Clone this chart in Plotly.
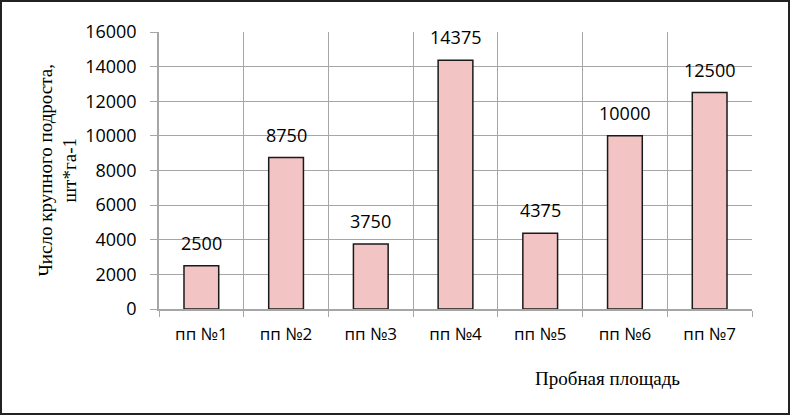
import plotly.graph_objects as go

categories = ["пп №1", "пп №2", "пп №3", "пп №4", "пп №5", "пп №6", "пп №7"]
values = [2500, 8750, 3750, 14375, 4375, 10000, 12500]
y_ticks = [0, 2000, 4000, 6000, 8000, 10000, 12000, 14000, 16000]

W, H = 791, 416
L, R, T, B = 159, 39, 32, 107
pw, ph = W - L - R, H - T - B

fig = go.Figure(go.Bar(
    x=categories, y=values,
    marker=dict(color="#F3C4C4", line=dict(color="#1a1a1a", width=1.5)),
    cliponaxis=False,
))

label_annotations = [
    dict(x=c, y=v, xref="x", yref="y", text=str(v), showarrow=False,
         xanchor="center", yanchor="bottom", yshift=9,
         font=dict(family="Open Sans", size=18, color="black"))
    for c, v in zip(categories, values)
]

fig.update_layout(
    width=W, height=H,
    margin=dict(l=L, r=R, t=T, b=B),
    paper_bgcolor="white", plot_bgcolor="white",
    bargap=0.59, showlegend=False,
    xaxis=dict(
        type="category", tickson="boundaries", showgrid=True, gridcolor="#A6A6A6", gridwidth=1,
        showline=True, linecolor="#A6A6A6", linewidth=1.5,
        ticks="outside", ticklen=6, tickcolor="#A6A6A6",
        tickfont=dict(family="Open Sans", size=17, color="black"),
        ticklabelstandoff=9,
    ),
    yaxis=dict(
        range=[0, 16000], tickvals=y_ticks, ticktext=[str(v) for v in y_ticks],
        showgrid=True, gridcolor="#A6A6A6", gridwidth=1,
        showline=True, linecolor="#A6A6A6", linewidth=1.5,
        ticks="outside", ticklen=7, tickcolor="#A6A6A6",
        tickfont=dict(family="Open Sans", size=18, color="black"),
        ticklabelstandoff=10, zeroline=False,
    ),
    annotations=label_annotations + [
        dict(text="Число крупного подроста,<br>шт*га-1", textangle=-90,
             xref="paper", yref="paper", x=(57 - L) / pw, y=0.5,
             xanchor="center", yanchor="middle", showarrow=False,
             font=dict(family="Liberation Serif", size=19, color="black")),
        dict(text="Пробная площадь", xref="paper", yref="paper",
             x=(607 - L) / pw, y=-(378 - (T + ph)) / ph,
             xanchor="center", yanchor="middle", showarrow=False,
             font=dict(family="Liberation Serif", size=19, color="black")),
    ],
    shapes=[dict(type="rect", xref="paper", yref="paper",
                 x0=(1 - L) / pw, x1=(W - 2 - L) / pw,
                 y0=1 + (T - 1) / ph, y1=-(H - 2 - T - ph) / ph,
                 line=dict(color="#222222", width=2), layer="above")],
)

fig.write_html("out.html", config={"displayModeBar": False},
               post_script="document.body.style.margin='0';document.body.style.overflow='hidden';")
